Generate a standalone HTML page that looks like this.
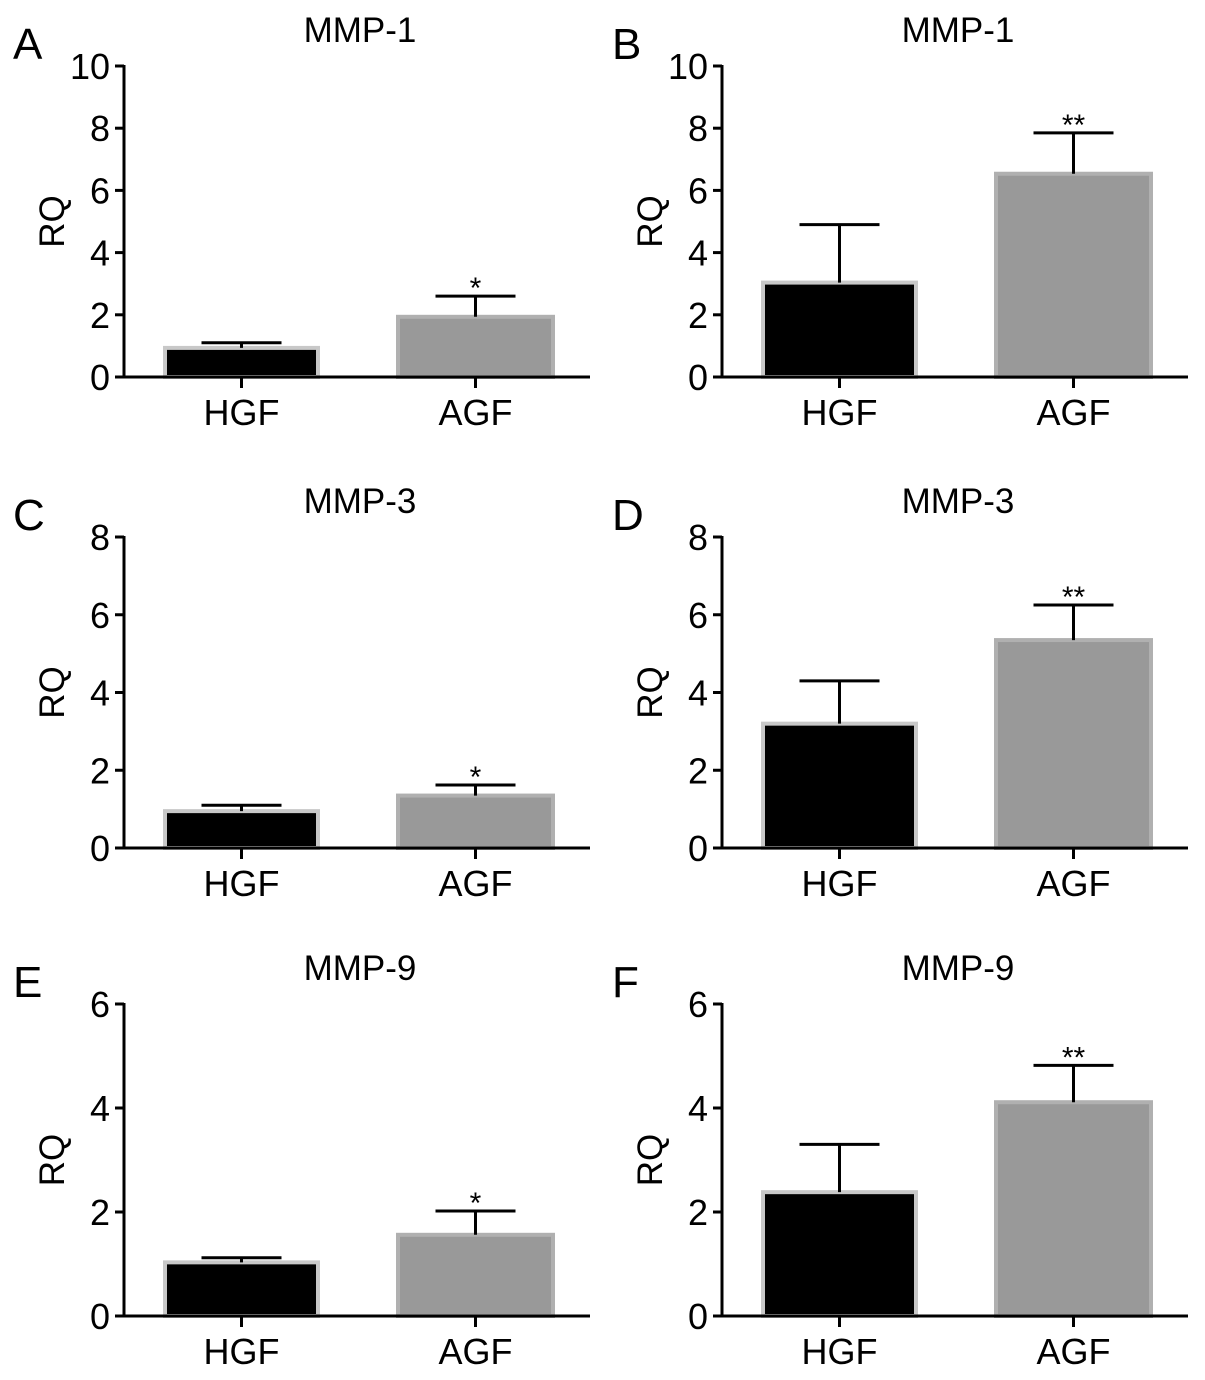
<!DOCTYPE html>
<html><head><meta charset="utf-8"><style>
html,body{margin:0;padding:0;background:#fff}
svg{display:block;font-family:"Liberation Sans",Arial,sans-serif}
</style></head><body>
<svg id="fig" width="1205" height="1380" viewBox="0 0 1205 1380"></svg>
<script>
const categories = ["HGF", "AGF"];
const panelLetters = ["A", "B", "C", "D", "E", "F"];
const panelTitles = ["MMP-1", "MMP-1", "MMP-3", "MMP-3", "MMP-9", "MMP-9"];
const yMaxes = [10, 10, 8, 8, 6, 6];
const yTickLists = [[0,2,4,6,8,10],[0,2,4,6,8,10],[0,2,4,6,8],[0,2,4,6,8],[0,2,4,6],[0,2,4,6]];
const meanA = [1.0, 2.0];   const errA = [1.1, 2.6];
const meanB = [3.1, 6.6];   const errB = [4.9, 7.85];
const meanC = [1.0, 1.4];   const errC = [1.1, 1.62];
const meanD = [3.25, 5.4];  const errD = [4.3, 6.25];
const meanE = [1.07, 1.6];  const errE = [1.12, 2.02];
const meanF = [2.42, 4.15]; const errF = [3.3, 4.82];
const sigA = ["", "*"], sigB = ["", "**"], sigC = ["", "*"], sigD = ["", "**"], sigE = ["", "*"], sigF = ["", "**"];
const means = [meanA, meanB, meanC, meanD, meanE, meanF];
const errs = [errA, errB, errC, errD, errE, errF];
const sigs = [sigA, sigB, sigC, sigD, sigE, sigF];

const NS = "http://www.w3.org/2000/svg";
const svg = document.getElementById("fig");
function mk(tag, attrs, parent, text) {
  const e = document.createElementNS(NS, tag);
  for (const k in attrs) e.setAttribute(k, attrs[k]);
  if (text !== undefined) e.textContent = text;
  (parent || svg).appendChild(e);
  return e;
}
const axisXs = [124, 722];
const rows = [{top: 66, bottom: 377}, {top: 537, bottom: 848}, {top: 1004, bottom: 1316}];
const barOff = [[39, 196], [272, 431]];
const fills = ["#000", "#999"];
const borders = ["#c8c8c8", "#b0b0b0"];

for (let p = 0; p < 6; p++) {
  const col = p % 2, row = Math.floor(p / 2);
  const ax = axisXs[col], top = rows[row].top, bot = rows[row].bottom;
  const yMax = yMaxes[p];
  const yScale = v => bot - (v / yMax) * (bot - top);
  const g = mk("g", {});
  
  

  const lt = mk("text", {x: col ? 612 : 13, y: top - 7, "font-size": 44}, g, panelLetters[p]);
  
  
  const tt = mk("text", {x: ax + 236, y: top - 24, "font-size": 35, "text-anchor": "middle"}, g, panelTitles[p]);
  
  
  const yl = mk("text", {x: 0, y: 0, "font-size": 35, "text-anchor": "middle", transform: `translate(${ax - 60},${(top + bot) / 2}) rotate(-90)`}, g, "RQ");
  
  

  for (let i = 0; i < 2; i++) {
    const x0 = ax + barOff[i][0], x1 = ax + barOff[i][1];
    const yt = yScale(means[p][i]);
    const r = mk("rect", {x: x0 + 2, y: yt + 2, width: x1 - x0 - 4, height: bot - yt - 2, fill: fills[i], stroke: borders[i], "stroke-width": 4}, g);
    
    
    const cx = (x0 + x1) / 2;
    const ye = yScale(errs[p][i]);
    const eb = mk("path", {d: `M${cx} ${yt + 2}V${ye}M${cx - 40} ${ye}H${cx + 40}`, stroke: "#000", "stroke-width": 3, fill: "none"}, g);
    
    
    if (sigs[p][i]) {
      const st = mk("text", {x: cx, y: ye + 2, "font-size": 30, "text-anchor": "middle"}, g, sigs[p][i]);
      
      
    }
    const tk = mk("line", {x1: cx, x2: cx, y1: bot, y2: bot + 11, stroke: "#000", "stroke-width": 3}, g);
    
    
    const cl = mk("text", {x: cx, y: bot + 48, "font-size": 36, "text-anchor": "middle"}, g, categories[i]);
    
    
  }

  const yAx = mk("line", {x1: ax, x2: ax, y1: top - 1, y2: bot + 1.5, stroke: "#000", "stroke-width": 3}, g);
  
  
  const xAx = mk("line", {x1: ax - 9, x2: ax + 466, y1: bot, y2: bot, stroke: "#000", "stroke-width": 3}, g);
  
  
  yTickLists[p].forEach(v => {
    const y = yScale(v);
    const t = mk("line", {x1: ax - 9, x2: ax, y1: y, y2: y, stroke: "#000", "stroke-width": 3}, g);
    
    
    const l = mk("text", {x: ax - 14, y: y + 13, "font-size": 36, "text-anchor": "end"}, g, String(v));
    
    
  });
}
</script>
</body></html>
